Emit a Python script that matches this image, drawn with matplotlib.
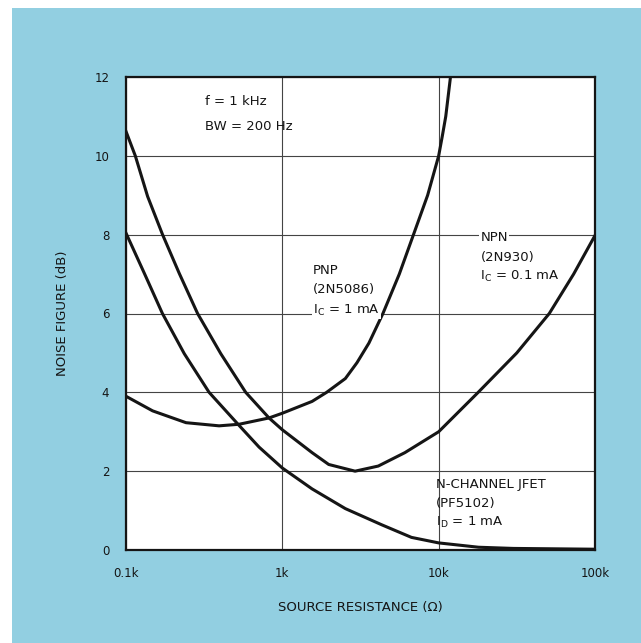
import matplotlib
matplotlib.use('Agg')
import matplotlib.pyplot as plt
from matplotlib.patches import Rectangle

# source resistance in kOhm, noise figure in dB
pnp_r = [0.1, 0.148, 0.242, 0.394, 0.529, 0.822, 1.0, 1.55, 1.92, 2.53, 3.0, 3.58,
         4.4, 5.6, 6.9, 8.5, 10.0, 10.55, 11.1, 11.9]
pnp_nf = [3.9, 3.53, 3.23, 3.15, 3.19, 3.35, 3.47, 3.77, 4.0, 4.35, 4.75, 5.25,
          6.0, 7.0, 8.0, 9.0, 10.0, 10.5, 11.0, 12.0]

npn_r = [0.1, 0.1147, 0.1375, 0.1714, 0.219, 0.287, 0.404, 0.583, 0.822, 1.0,
         1.55, 1.98, 2.92, 4.11, 6.08, 10.0, 17.9, 31.6, 51.0, 73.0, 100.0]
npn_nf = [10.62, 10.0, 8.97, 8.0, 7.02, 6.0, 4.98, 4.0, 3.35, 3.05,
          2.47, 2.17, 2.0, 2.13, 2.47, 3.0, 4.0, 5.0, 6.0, 7.0, 7.98]

jfet_r = [0.1, 0.131, 0.171, 0.236, 0.340, 0.529, 0.710, 1.0, 1.55, 2.53,
          4.32, 6.7, 10.0, 18.0, 30.0, 100.0]
jfet_nf = [8.04, 7.02, 6.0, 4.98, 4.0, 3.16, 2.61, 2.08, 1.55, 1.05,
           0.64, 0.32, 0.18, 0.07, 0.04, 0.02]

x_ticks = [0.1, 1, 10, 100]
x_ticklabels = ['0.1k', '1k', '10k', '100k']
y_ticks = [0, 2, 4, 6, 8, 10, 12]

BG = '#92cfe1'
INK = '#151515'

fig = plt.figure(figsize=(6.41, 6.43), dpi=100)
fig.patch.set_facecolor('white')
# halftone-blue page tint behind the chart
fig.patches.append(Rectangle((12 / 641, 0), 1, 1 - 8 / 643, transform=fig.transFigure,
                             facecolor=BG, edgecolor='none', zorder=-10))

ax = fig.add_axes([126 / 641, 1 - 550 / 643, (595 - 126) / 641, (550 - 77) / 643])
ax.set_facecolor('white')

for r, nf in [(pnp_r, pnp_nf), (npn_r, npn_nf), (jfet_r, jfet_nf)]:
    ax.plot(r, nf, color=INK, linewidth=2.2, solid_joinstyle='round', zorder=3)

ax.set_xscale('log')
ax.set_xlim(0.1, 100)
ax.set_ylim(0, 12)
ax.set_xticks(x_ticks)
ax.set_xticklabels(x_ticklabels)
ax.set_yticks(y_ticks)
ax.minorticks_off()
ax.tick_params(length=0, labelsize=8.5, colors=INK)
ax.tick_params(axis='x', pad=12)
ax.tick_params(axis='y', pad=12)
ax.grid(True, color='#444444', linewidth=0.8)
ax.set_axisbelow(True)
for s in ax.spines.values():
    s.set_color(INK)
    s.set_linewidth(1.6)

ax.set_xlabel('SOURCE RESISTANCE (\u03a9)', fontsize=9.5, color=INK, labelpad=15)
ax.set_ylabel('NOISE FIGURE (dB)', fontsize=9.5, color=INK, labelpad=18)

txt = dict(fontsize=9.5, color=INK, va='center', ha='left')
box = dict(facecolor='white', edgecolor='none', pad=1)

ax.text(0.32, 11.37, 'f = 1 kHz', **txt)
ax.text(0.32, 10.74, 'BW = 200 Hz', **txt)

ax.text(1.57, 7.1, 'PNP', **txt)
ax.text(1.57, 6.6, '(2N5086)', **txt)
ax.text(1.57, 6.09, 'I$_\\mathrm{C}$ = 1 mA', bbox=box, **txt)

ax.text(18.5, 7.92, 'NPN', bbox=box, **txt)
ax.text(18.5, 7.41, '(2N930)', **txt)
ax.text(18.5, 6.93, 'I$_\\mathrm{C}$ = 0.1 mA', **txt)

ax.text(9.6, 1.65, 'N-CHANNEL JFET', **txt)
ax.text(9.6, 1.19, '(PF5102)', **txt)
ax.text(9.6, 0.69, 'I$_\\mathrm{D}$ = 1 mA', **txt)

plt.savefig('out.png', dpi=100, facecolor=fig.get_facecolor())
